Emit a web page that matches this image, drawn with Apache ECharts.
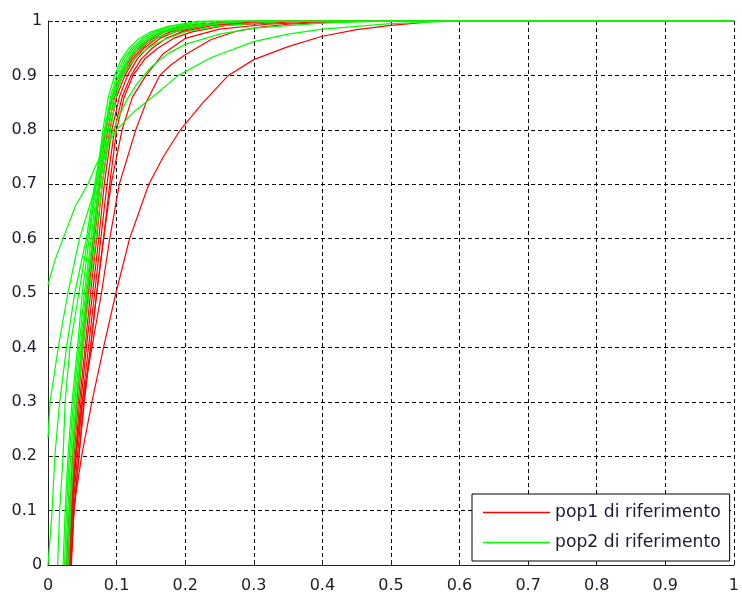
<!DOCTYPE html>
<html>
<head>
<meta charset="utf-8">
<script src="https://cdn.jsdelivr.net/npm/echarts@6/dist/echarts.min.js"></script>
<style>
  html, body { margin: 0; padding: 0; background: #fff; }
  #chart { width: 742px; height: 594px; }
</style>
</head>
<body>
<div id="chart"></div>
<script>
// Empirical CDF curves: each entry is [x, F(x)]
const pop1_a = [[0.034,0],[0.036,0.05],[0.037,0.1],[0.049,0.2],[0.064,0.3],[0.081,0.4],[0.099,0.5],[0.119,0.6],[0.147,0.7],[0.168,0.75],[0.193,0.8],[0.226,0.85],[0.263,0.9],[0.3,0.929],[0.35,0.953],[0.4,0.972],[0.45,0.984],[0.5,0.992],[0.544,0.997],[0.56,1],[1,1]];
const pop1_b = [[0.031,0],[0.034,0.1],[0.04,0.2],[0.05,0.3],[0.064,0.4],[0.078,0.5],[0.09,0.6],[0.104,0.7],[0.128,0.8],[0.143,0.85],[0.163,0.9],[0.18,0.92],[0.2,0.938],[0.238,0.966],[0.277,0.982],[0.31,0.989],[0.35,0.994],[0.4,0.997],[0.45,1],[1,1]];
const pop1_c = [[0.033,0],[0.038,0.1],[0.045,0.2],[0.052,0.3],[0.062,0.4],[0.071,0.5],[0.081,0.6],[0.092,0.7],[0.108,0.8],[0.123,0.86],[0.143,0.9],[0.168,0.94],[0.2,0.968],[0.25,0.985],[0.32,0.994],[0.42,1],[1,1]];
const pop1_d = [[0.027,0],[0.031,0.1],[0.036,0.2],[0.042,0.3],[0.049,0.4],[0.057,0.5],[0.066,0.6],[0.074,0.7],[0.084,0.8],[0.094,0.86],[0.106,0.9],[0.12,0.93],[0.133,0.95],[0.15,0.968],[0.165,0.98],[0.2,0.992],[0.27,1],[1,1]];
const pop1_e = [[0.029,0],[0.033,0.1],[0.038,0.2],[0.044,0.3],[0.051,0.4],[0.059,0.5],[0.068,0.6],[0.076,0.7],[0.087,0.8],[0.097,0.86],[0.109,0.9],[0.123,0.93],[0.137,0.95],[0.153,0.968],[0.17,0.98],[0.21,0.992],[0.28,1],[1,1]];
const pop1_f = [[0.03,0],[0.034,0.1],[0.04,0.2],[0.046,0.3],[0.054,0.4],[0.062,0.5],[0.071,0.6],[0.079,0.7],[0.09,0.8],[0.1,0.86],[0.112,0.9],[0.126,0.93],[0.14,0.95],[0.158,0.968],[0.178,0.98],[0.22,0.992],[0.3,1],[1,1]];
const pop1_g = [[0.031,0],[0.035,0.1],[0.041,0.2],[0.048,0.3],[0.056,0.4],[0.065,0.5],[0.074,0.6],[0.082,0.7],[0.093,0.8],[0.104,0.86],[0.116,0.9],[0.13,0.93],[0.145,0.95],[0.163,0.968],[0.185,0.98],[0.23,0.992],[0.32,1],[1,1]];
const pop1_h = [[0.032,0],[0.036,0.1],[0.043,0.2],[0.05,0.3],[0.059,0.4],[0.068,0.5],[0.077,0.6],[0.086,0.7],[0.097,0.8],[0.108,0.86],[0.121,0.9],[0.136,0.93],[0.152,0.95],[0.172,0.968],[0.195,0.98],[0.24,0.992],[0.35,1],[1,1]];
const pop1_i = [[0.033,0],[0.038,0.1],[0.045,0.2],[0.053,0.3],[0.062,0.4],[0.071,0.5],[0.081,0.6],[0.09,0.7],[0.1,0.8],[0.111,0.86],[0.124,0.9],[0.141,0.93],[0.16,0.95],[0.183,0.968],[0.21,0.98],[0.26,0.992],[0.38,1],[1,1]];

const pop2_a = [[0,0.515],[0.01,0.56],[0.022,0.6],[0.04,0.66],[0.058,0.7],[0.07,0.735],[0.085,0.77],[0.1,0.8],[0.127,0.835],[0.157,0.865],[0.19,0.9],[0.238,0.933],[0.3,0.962],[0.35,0.976],[0.4,0.985],[0.5,0.995],[0.6,1],[1,1]];
const pop2_b = [[0,0.233],[0.003,0.3],[0.015,0.4],[0.029,0.5],[0.046,0.6],[0.063,0.67],[0.075,0.72],[0.087,0.77],[0.1,0.815],[0.115,0.855],[0.13,0.885],[0.15,0.915],[0.175,0.94],[0.2,0.957],[0.25,0.976],[0.3,0.987],[0.4,0.996],[0.5,1],[1,1]];
const pop2_c = [[0,0],[0.006,0.1],[0.01,0.2],[0.017,0.3],[0.027,0.4],[0.039,0.5],[0.056,0.6],[0.068,0.7],[0.082,0.8],[0.09,0.845],[0.1,0.88],[0.115,0.912],[0.13,0.935],[0.15,0.953],[0.17,0.966],[0.2,0.98],[0.25,0.991],[0.35,1],[1,1]];
const pop2_d = [[0.014,0],[0.017,0.1],[0.022,0.2],[0.025,0.3],[0.032,0.4],[0.045,0.5],[0.058,0.6],[0.07,0.7],[0.083,0.8],[0.091,0.85],[0.1,0.89],[0.112,0.92],[0.125,0.94],[0.142,0.957],[0.16,0.97],[0.2,0.986],[0.25,0.995],[0.3,1],[1,1]];
const pop2_e = [[0.022,0],[0.025,0.1],[0.029,0.2],[0.035,0.3],[0.043,0.4],[0.05,0.5],[0.06,0.6],[0.07,0.7],[0.08,0.8],[0.088,0.86],[0.097,0.9],[0.107,0.93],[0.118,0.95],[0.132,0.967],[0.15,0.98],[0.175,0.99],[0.22,1],[1,1]];
const pop2_f = [[0.024,0],[0.027,0.1],[0.031,0.2],[0.037,0.3],[0.045,0.4],[0.053,0.5],[0.063,0.6],[0.072,0.7],[0.083,0.8],[0.091,0.86],[0.1,0.9],[0.11,0.93],[0.122,0.95],[0.137,0.967],[0.155,0.98],[0.18,0.99],[0.23,1],[1,1]];
const pop2_g = [[0.026,0],[0.029,0.1],[0.033,0.2],[0.039,0.3],[0.047,0.4],[0.055,0.5],[0.065,0.6],[0.074,0.7],[0.085,0.8],[0.093,0.86],[0.103,0.9],[0.113,0.93],[0.125,0.95],[0.141,0.967],[0.16,0.98],[0.19,0.99],[0.24,1],[1,1]];
const pop2_h = [[0.028,0],[0.031,0.1],[0.035,0.2],[0.041,0.3],[0.049,0.4],[0.057,0.5],[0.067,0.6],[0.076,0.7],[0.088,0.8],[0.096,0.86],[0.106,0.9],[0.116,0.93],[0.128,0.95],[0.145,0.967],[0.165,0.98],[0.2,0.99],[0.26,1],[1,1]];
const pop2_i = [[0.03,0],[0.033,0.1],[0.037,0.2],[0.043,0.3],[0.051,0.4],[0.06,0.5],[0.07,0.6],[0.079,0.7],[0.091,0.8],[0.099,0.86],[0.108,0.9],[0.118,0.93],[0.13,0.95],[0.148,0.967],[0.17,0.98],[0.21,0.99],[0.28,1],[1,1]];

const pop1Curves = [pop1_a, pop1_b, pop1_c, pop1_d, pop1_e, pop1_f, pop1_g, pop1_h, pop1_i];
const pop2Curves = [pop2_a, pop2_b, pop2_c, pop2_d, pop2_e, pop2_f, pop2_g, pop2_h, pop2_i];

const legendNames = ['pop1 di riferimento', 'pop2 di riferimento'];
const xTickLabels = ['0', '0.1', '0.2', '0.3', '0.4', '0.5', '0.6', '0.7', '0.8', '0.9', '1'];
const yTickLabels = ['0', '0.1', '0.2', '0.3', '0.4', '0.5', '0.6', '0.7', '0.8', '0.9', '1'];

const RED = '#ff0000';
const GREEN = '#00ff00';
const FONT = 'DejaVu Sans';
const TEXT = '#1c1c2c';

function curveSeries(data, name, color) {
  return {
    type: 'line',
    name: name,
    data: data,
    showSymbol: false,
    symbol: 'none',
    smooth: false,
    animation: false,
    lineStyle: { color: color, width: 1.2 },
    itemStyle: { color: color },
    emphasis: { disabled: true }
  };
}

const series = []
  .concat(pop1Curves.map(d => curveSeries(d, legendNames[0], RED)))
  .concat(pop2Curves.map(d => curveSeries(d, legendNames[1], GREEN)));

const axisCommon = {
  type: 'value',
  min: 0,
  max: 1,
  interval: 0.1,
  axisLine: { show: true, onZero: false, lineStyle: { color: '#202020', width: 1 } },
  axisTick: { show: true, inside: true, length: 5, lineStyle: { color: '#202020' } },
  splitLine: { show: true, lineStyle: { color: '#000', width: 1, type: [4, 3] } }
};

const chart = echarts.init(document.getElementById('chart'), null, { renderer: 'canvas' });
chart.setOption({
  backgroundColor: '#ffffff',
  animation: false,
  grid: { left: 48, right: 1, top: 21, bottom: 27, containLabel: false },
  xAxis: Object.assign({}, axisCommon, {
    axisLabel: {
      margin: 13,
      alignMinLabel: 'center',
      alignMaxLabel: 'center',
      fontFamily: FONT, fontSize: 16, color: TEXT,
      formatter: v => xTickLabels[Math.round(v * 10)]
    }
  }),
  yAxis: Object.assign({}, axisCommon, {
    axisLabel: {
      margin: 11,
      alignMinLabel: 'center',
      alignMaxLabel: 'center',
      fontFamily: FONT, fontSize: 16, color: TEXT,
      formatter: v => yTickLabels[Math.round(v * 10)]
    }
  }),
  legend: {
    data: legendNames.map((n, i) => ({
      name: n,
      icon: 'rect',
      itemStyle: { color: i === 0 ? RED : GREEN }
    })),
    orient: 'vertical',
    left: 472,
    top: 494,
    padding: [10, 9, 10, 11],
    itemWidth: 67,
    itemHeight: 1.4,
    itemGap: 13,
    backgroundColor: '#ffffff',
    borderColor: '#000000',
    borderWidth: 1,
    borderRadius: 0,
    selectedMode: false,
    textStyle: { fontFamily: FONT, fontSize: 17.2, color: TEXT, lineHeight: 17 }
  },
  series: series
});
</script>
</body>
</html>
